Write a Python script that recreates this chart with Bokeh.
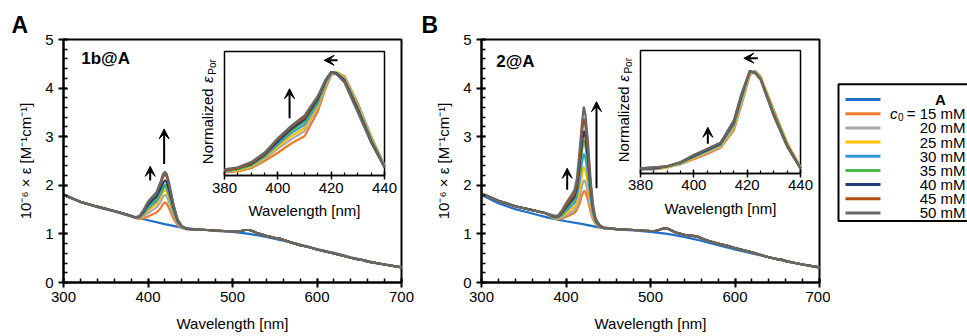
import math
from bokeh.plotting import figure
from bokeh.models import (Range1d, LinearAxis, SingleIntervalTicker,
                          Arrow, VeeHead, Label)
from bokeh.layouts import row
from bokeh.core.properties import value
from bokeh.embed import file_html
from bokeh.resources import INLINE

FONT = "Liberation Sans"

# ---------------- data ----------------
series_labels = ["A", "15 mM", "20 mM", "25 mM", "30 mM", "35 mM", "40 mM", "45 mM", "50 mM"]
series_colors = ["#1f6fc9", "#f07a2c", "#a8a8a8", "#ffc000", "#3a9ad9", "#4cb848",
                 "#1f3d7a", "#b24a12", "#676767"]

# Panel A (1b@A) -- host A alone
A_blue_wl = [300, 320, 340, 360, 380, 400, 420, 440, 460, 480, 500, 520, 540, 560, 580, 600, 620, 640, 660, 680, 700]
A_blue = [1.82, 1.66, 1.55, 1.46, 1.36, 1.28, 1.20, 1.13, 1.09, 1.06, 1.04, 1.00, 0.94, 0.86, 0.78, 0.69, 0.61, 0.52, 0.44, 0.37, 0.31]

# Panel A guest curves: shared short-wavelength part, Soret region per concentration, shared long-wavelength part
A_lo_wl = [300, 320, 340, 360, 380]
A_lo = [1.80, 1.66, 1.56, 1.47, 1.37]
A_peak_wl = [385, 390, 395, 400, 405, 410, 415, 418, 420, 422, 425, 430, 435, 440, 445]
a15 = [1.33, 1.31, 1.32, 1.36, 1.40, 1.44, 1.53, 1.62, 1.65, 1.63, 1.52, 1.32, 1.18, 1.12, 1.10]
a20 = [1.33, 1.32, 1.36, 1.43, 1.49, 1.54, 1.66, 1.77, 1.80, 1.78, 1.65, 1.40, 1.21, 1.13, 1.10]
a25 = [1.33, 1.33, 1.39, 1.48, 1.55, 1.61, 1.75, 1.86, 1.90, 1.87, 1.73, 1.45, 1.23, 1.14, 1.10]
a30 = [1.33, 1.34, 1.41, 1.52, 1.60, 1.67, 1.82, 1.93, 1.97, 1.94, 1.79, 1.48, 1.24, 1.14, 1.10]
a35 = [1.34, 1.35, 1.44, 1.56, 1.65, 1.72, 1.87, 1.98, 2.02, 1.99, 1.83, 1.51, 1.25, 1.15, 1.11]
a40 = [1.34, 1.35, 1.46, 1.60, 1.69, 1.77, 1.94, 2.06, 2.10, 2.07, 1.90, 1.55, 1.27, 1.15, 1.11]
a45 = [1.34, 1.36, 1.49, 1.65, 1.75, 1.84, 2.04, 2.18, 2.22, 2.18, 2.00, 1.60, 1.29, 1.16, 1.11]
a50 = [1.34, 1.37, 1.50, 1.66, 1.76, 1.86, 2.08, 2.24, 2.28, 2.24, 2.05, 1.62, 1.30, 1.16, 1.11]
hi_wl = [450, 460, 470, 480, 490, 500, 505, 510, 515, 520, 525, 530, 540, 550, 555, 560, 570, 580, 590, 600, 620, 640, 650, 655, 660, 680, 700]
A_hi = [1.10, 1.09, 1.08, 1.07, 1.06, 1.05, 1.05, 1.06, 1.08, 1.08, 1.05, 1.01, 0.96, 0.92, 0.91, 0.88, 0.82, 0.77, 0.73, 0.68, 0.60, 0.51, 0.47, 0.46, 0.43, 0.37, 0.31]

# Panel B (2@A)
B_blue_wl = [300, 320, 340, 360, 380, 400, 420, 440, 460, 480, 500, 520, 540, 560, 580, 600, 620, 640, 660, 680, 700]
B_blue = [1.80, 1.63, 1.51, 1.42, 1.33, 1.26, 1.20, 1.13, 1.09, 1.07, 1.04, 1.00, 0.94, 0.86, 0.77, 0.68, 0.60, 0.52, 0.44, 0.37, 0.30]
B_lo_wl = [300, 320, 340, 360, 375]
B_lo = [1.83, 1.68, 1.57, 1.49, 1.43]
B_peak_wl = [385, 390, 395, 400, 405, 410, 413, 416, 419, 421, 423, 426, 429, 432, 435, 440, 445]
b15 = [1.33, 1.30, 1.32, 1.35, 1.39, 1.43, 1.50, 1.62, 1.80, 1.88, 1.87, 1.69, 1.46, 1.30, 1.20, 1.14, 1.11]
b20 = [1.34, 1.31, 1.34, 1.38, 1.43, 1.49, 1.58, 1.75, 1.99, 2.11, 2.07, 1.84, 1.54, 1.34, 1.22, 1.14, 1.12]
b25 = [1.34, 1.32, 1.36, 1.42, 1.49, 1.56, 1.67, 1.90, 2.23, 2.38, 2.31, 2.02, 1.64, 1.38, 1.23, 1.15, 1.12]
b30 = [1.35, 1.33, 1.38, 1.47, 1.55, 1.64, 1.78, 2.08, 2.48, 2.65, 2.56, 2.21, 1.75, 1.42, 1.25, 1.15, 1.12]
b35 = [1.36, 1.34, 1.41, 1.51, 1.61, 1.71, 1.88, 2.26, 2.72, 2.93, 2.81, 2.41, 1.86, 1.46, 1.27, 1.16, 1.12]
b40 = [1.36, 1.35, 1.43, 1.54, 1.65, 1.76, 1.95, 2.38, 2.88, 3.12, 2.99, 2.55, 1.94, 1.50, 1.28, 1.16, 1.12]
b45 = [1.37, 1.36, 1.45, 1.58, 1.70, 1.82, 2.04, 2.52, 3.10, 3.37, 3.22, 2.72, 2.04, 1.54, 1.30, 1.17, 1.13]
b50 = [1.38, 1.37, 1.48, 1.63, 1.76, 1.90, 2.15, 2.70, 3.30, 3.62, 3.45, 2.90, 2.15, 1.60, 1.32, 1.18, 1.13]
B_hi = [1.12, 1.10, 1.09, 1.08, 1.07, 1.06, 1.06, 1.08, 1.11, 1.11, 1.07, 1.03, 0.98, 0.96, 0.95, 0.91, 0.85, 0.80, 0.76, 0.71, 0.62, 0.52, 0.48, 0.47, 0.44, 0.37, 0.31]

# Insets: normalized Soret band
iA_wl = [380, 385, 390, 395, 400, 405, 410, 415, 418, 420, 422, 425, 430, 435, 440]
ia15 = [0.03, 0.04, 0.07, 0.14, 0.22, 0.31, 0.38, 0.62, 0.85, 0.97, 1.00, 0.96, 0.70, 0.38, 0.10]
ia20 = [0.04, 0.05, 0.08, 0.16, 0.26, 0.35, 0.43, 0.66, 0.88, 0.98, 1.00, 0.95, 0.68, 0.37, 0.09]
ia25 = [0.04, 0.05, 0.09, 0.17, 0.28, 0.38, 0.46, 0.68, 0.89, 0.99, 1.00, 0.94, 0.67, 0.36, 0.09]
ia30 = [0.04, 0.06, 0.10, 0.18, 0.30, 0.41, 0.49, 0.70, 0.90, 0.99, 0.99, 0.93, 0.66, 0.35, 0.09]
ia35 = [0.05, 0.06, 0.10, 0.19, 0.32, 0.43, 0.52, 0.72, 0.91, 1.00, 0.99, 0.92, 0.65, 0.34, 0.08]
ia40 = [0.05, 0.07, 0.11, 0.20, 0.33, 0.45, 0.54, 0.74, 0.92, 1.00, 0.99, 0.92, 0.64, 0.33, 0.08]
ia45 = [0.05, 0.07, 0.12, 0.21, 0.35, 0.47, 0.56, 0.76, 0.93, 1.00, 0.98, 0.91, 0.62, 0.32, 0.08]
ia50 = [0.06, 0.08, 0.13, 0.22, 0.36, 0.48, 0.58, 0.77, 0.93, 1.00, 0.98, 0.90, 0.61, 0.32, 0.08]

iB_wl = [380, 385, 390, 395, 400, 405, 410, 415, 418, 421, 423, 425, 430, 435, 440]
ib15 = [0.04, 0.04, 0.06, 0.09, 0.14, 0.19, 0.25, 0.42, 0.68, 0.96, 1.00, 0.95, 0.62, 0.30, 0.06]
ib20 = [0.04, 0.04, 0.06, 0.09, 0.15, 0.20, 0.26, 0.44, 0.70, 0.97, 1.00, 0.94, 0.61, 0.29, 0.06]
ib25 = [0.04, 0.05, 0.06, 0.10, 0.15, 0.21, 0.27, 0.45, 0.72, 0.98, 0.99, 0.94, 0.60, 0.29, 0.06]
ib30 = [0.04, 0.05, 0.07, 0.10, 0.16, 0.22, 0.28, 0.47, 0.74, 0.99, 0.99, 0.93, 0.59, 0.28, 0.05]
ib35 = [0.05, 0.05, 0.07, 0.10, 0.17, 0.23, 0.29, 0.49, 0.76, 1.00, 0.99, 0.93, 0.58, 0.28, 0.05]
ib40 = [0.05, 0.05, 0.07, 0.11, 0.17, 0.23, 0.29, 0.50, 0.77, 1.00, 0.98, 0.92, 0.57, 0.27, 0.05]
ib45 = [0.05, 0.06, 0.07, 0.11, 0.18, 0.24, 0.30, 0.51, 0.78, 1.00, 0.98, 0.92, 0.57, 0.27, 0.05]
ib50 = [0.05, 0.06, 0.07, 0.11, 0.18, 0.24, 0.30, 0.52, 0.79, 1.00, 0.98, 0.92, 0.56, 0.26, 0.05]

INSET_X = (380, 440)
INSET_Y = (0, 1.2)

# ---------------- helpers ----------------
def style_axis(ax, major_in=4, major_out=5, minor_in=4):
    ax.axis_line_width = 2
    ax.axis_line_color = "black"
    ax.major_tick_line_width = 2
    ax.major_tick_line_color = "black"
    ax.minor_tick_line_width = 1.5
    ax.minor_tick_line_color = "black"
    ax.major_tick_in = major_in
    ax.major_tick_out = major_out
    ax.minor_tick_in = minor_in
    ax.minor_tick_out = 0
    ax.major_label_text_font = FONT
    ax.major_label_text_font_size = "15px"
    ax.major_label_text_color = "black"
    ax.axis_label_text_font = FONT
    ax.axis_label_text_font_size = "15px"
    ax.axis_label_text_font_style = "normal"
    ax.axis_label_text_color = "black"


def make_panel(width, border_left, border_right, blue_wl, blue, lo_wl, lo, peak_wl, peaks,
               hi, inset_frac, inset_wl, insets, tag, tag_xy, letter, letter_offset,
               main_arrows, inset_arrows):
    p = figure(width=width, height=336, x_range=Range1d(300, 700), y_range=Range1d(0, 5),
               output_backend="svg", toolbar_location=None,
               min_border_left=border_left, min_border_right=border_right,
               min_border_top=39, min_border_bottom=54,
               x_axis_label="Wavelength [nm]", y_axis_label="10⁻⁶ × ε [M⁻¹cm⁻¹]")
    p.xgrid.visible = False
    p.ygrid.visible = False
    p.outline_line_color = "black"
    p.outline_line_width = 2
    p.outline_line_alpha = 1
    p.background_fill_color = "white"
    p.border_fill_color = "white"
    p.xaxis.ticker = SingleIntervalTicker(interval=100, num_minor_ticks=5)
    p.yaxis.ticker = SingleIntervalTicker(interval=1, num_minor_ticks=5)
    for ax in p.xaxis:
        style_axis(ax)
        ax.major_label_standoff = 4
        ax.axis_label_standoff = 10
    for ax in p.yaxis:
        style_axis(ax)
        ax.major_label_standoff = 5
        ax.axis_label_standoff = 8

    # panel letter as title
    p.title.text = letter
    p.title.align = "left"
    p.title.offset = letter_offset
    p.title.text_font = FONT
    p.title.text_font_size = "23px"
    p.title.text_font_style = "bold"
    p.title.text_color = "black"
    p.title.standoff = 3

    # main curves
    p.line(blue_wl, blue, line_color=series_colors[0], line_width=2.2)
    for ys, c in zip(peaks, series_colors[1:]):
        p.line(lo_wl + peak_wl + hi_wl, lo + ys + hi, line_color=c, line_width=2.2)

    # inset coordinate system mapped onto a sub-rectangle of the frame
    fl, fr, fb, ft = inset_frac
    xs = (INSET_X[1] - INSET_X[0]) / (fr - fl)
    x0 = INSET_X[0] - fl * xs
    ys_ = (INSET_Y[1] - INSET_Y[0]) / (ft - fb)
    y0 = INSET_Y[0] - fb * ys_
    p.extra_x_ranges = {"ix": Range1d(x0, x0 + xs)}
    p.extra_y_ranges = {"iy": Range1d(y0, y0 + ys_)}
    kw = dict(x_range_name="ix", y_range_name="iy")

    p.quad(left=[INSET_X[0]], right=[INSET_X[1]], bottom=[INSET_Y[0]], top=[INSET_Y[1]],
           fill_color="white", line_color="black", line_width=1.5, **kw)
    for ys, c in zip(insets, series_colors[1:]):
        p.line(inset_wl, ys, line_color=c, line_width=2.2, **kw)

    iax = LinearAxis(fixed_location=INSET_Y[0], bounds=INSET_X,
                     ticker=SingleIntervalTicker(interval=20, num_minor_ticks=4), **kw)
    style_axis(iax, major_in=4, major_out=4, minor_in=3)
    iax.axis_line_width = 1.5
    iax.major_tick_line_width = 1.5
    iax.minor_tick_line_width = 1.2
    iax.major_label_standoff = 3
    p.add_layout(iax, "below")

    xmid = (INSET_X[0] + INSET_X[1]) / 2
    p.add_layout(Label(x=xmid, y=-0.34, text="Wavelength [nm]", text_align="center",
                       text_baseline="middle", text_font=FONT, text_font_size="15px",
                       text_color="black", **kw))
    p.add_layout(Label(x=INSET_X[0] - 6.4, y=0.11, text="Normalized", angle=math.pi / 2,
                       text_align="left", text_baseline="middle", text_font=FONT,
                       text_font_size="15px", text_color="black", **kw))
    p.add_layout(Label(x=INSET_X[0] - 6.4, y=0.895, text="ε", angle=math.pi / 2,
                       text_align="left", text_baseline="middle", text_font=FONT,
                       text_font_size="15px", text_font_style="italic", text_color="black", **kw))
    p.add_layout(Label(x=INSET_X[0] - 4.4, y=0.975, text="Por", angle=math.pi / 2,
                       text_align="left", text_baseline="middle", text_font=FONT,
                       text_font_size="10px", text_color="black", **kw))

    # arrows
    for (xa, ya, xb, yb) in main_arrows:
        p.add_layout(Arrow(x_start=xa, y_start=ya, x_end=xb, y_end=yb, line_width=2,
                           end=VeeHead(size=10, fill_color="black", line_color="black")))
    for (xa, ya, xb, yb) in inset_arrows:
        p.add_layout(Arrow(x_start=xa, y_start=ya, x_end=xb, y_end=yb, line_width=2,
                           end=VeeHead(size=10, fill_color="black", line_color="black"), **kw))

    # panel tag
    p.add_layout(Label(x=tag_xy[0], y=tag_xy[1], text=tag, text_font=FONT, text_font_size="17px",
                       text_font_style="bold", text_baseline="middle", text_color="black"))
    return p


pA = make_panel(418, 63, 17, A_blue_wl, A_blue, A_lo_wl, A_lo, A_peak_wl,
                [a15, a20, a25, a30, a35, a40, a45, a50], A_hi,
                (0.4763, 0.9497, 0.4403, 0.9506), iA_wl,
                [ia15, ia20, ia25, ia30, ia35, ia40, ia45, ia50],
                "1b@A", (321, 4.61), "A", -52,
                [(402.6, 2.10, 402.6, 2.39), (419.1, 2.44, 419.1, 3.16)],
                [(404.4, 0.554, 404.4, 0.84), (422.4, 1.115, 417.4, 1.115)])

pB = make_panel(412, 63, 11, B_blue_wl, B_blue, B_lo_wl, B_lo, B_peak_wl,
                [b15, b20, b25, b30, b35, b40, b45, b50], B_hi,
                (0.4704, 0.9438, 0.4486, 0.9547), iB_wl,
                [ib15, ib20, ib25, ib30, ib35, ib40, ib45, ib50],
                "2@A", (317.4, 4.55), "B", -60,
                [(401.4, 1.91, 401.4, 2.35), (436.1, 1.94, 436.1, 3.72)],
                [(405.25, 0.29, 405.25, 0.45), (424, 1.125, 418.75, 1.125)])

# ---------------- legend ----------------
L = figure(width=137, height=336, x_range=Range1d(0, 137), y_range=Range1d(336, 0),
           output_backend="svg", toolbar_location=None, min_border=0,
           x_axis_type=None, y_axis_type=None)
L.outline_line_color = None
L.background_fill_color = "white"
L.border_fill_color = "white"
L.quad(left=[8], right=[150], top=[62], bottom=[251], fill_color=None,
       line_color="black", line_width=2)
rows_y = [83 + 19.6 * i for i in range(len(series_labels))]
L.segment(x0=[15] * len(rows_y), x1=[50] * len(rows_y), y0=rows_y, y1=rows_y,
          line_color=series_colors, line_width=3)
L.text(x=[110], y=[rows_y[0]], text=[series_labels[0]], text_font=value(FONT),
       text_font_size=value("15px"), text_font_style="bold", text_align="center",
       text_baseline="middle", text_color="black")
conc_text = ["= " + series_labels[1]] + series_labels[2:]
L.text(x=[135] * len(conc_text), y=rows_y[1:], text=conc_text, text_font=value(FONT),
       text_font_size=value("15px"), text_align="right", text_baseline="middle",
       text_color="black")
L.text(x=[67], y=[rows_y[1]], text=["c"], text_font=value(FONT), text_font_size=value("15px"),
       text_font_style="italic", text_align="right", text_baseline="middle", text_color="black")
L.text(x=[73], y=[rows_y[1] + 4], text=["0"], text_font=value(FONT), text_font_size=value("10px"),
       text_align="right", text_baseline="middle", text_color="black")

layout = row(pA, pB, L)
open("out.html", "w").write(file_html(layout, INLINE))
